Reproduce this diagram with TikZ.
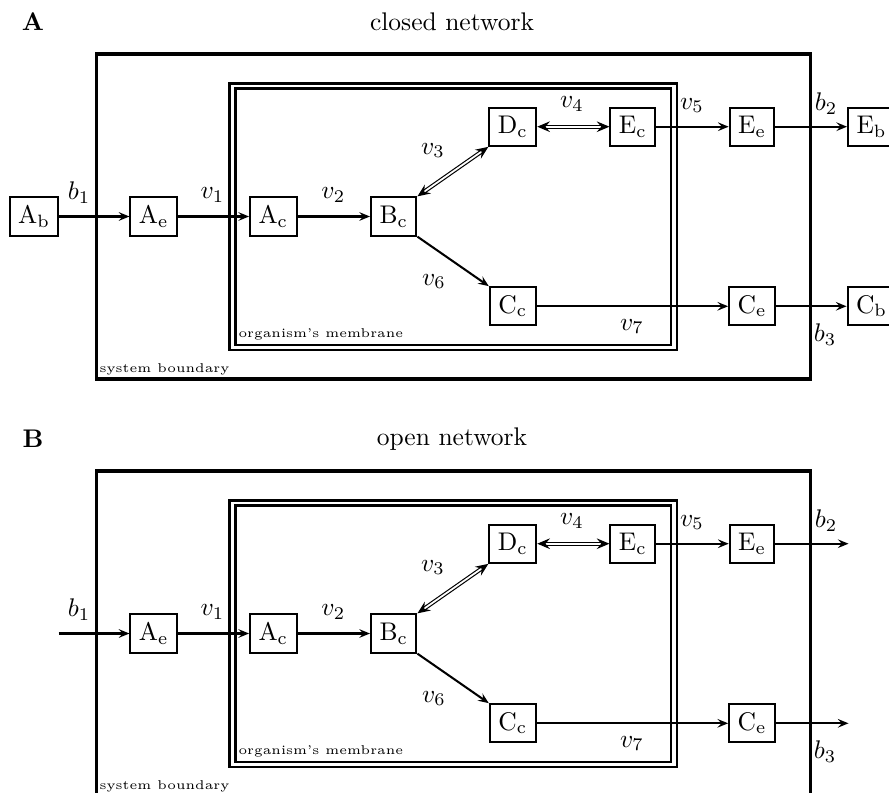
\documentclass[tikz,border=0pt]{standalone}
\usetikzlibrary{arrows.meta}
\tikzset{
  box/.style={draw,thick,inner sep=3.33pt},
  flow/.style={thick,-{Stealth[length=4.2pt,width=3.4pt,inset=1.6pt]}},
  rev/.style={double,double distance=0.7pt,line width=0.45pt,{Stealth[length=5pt,width=4.2pt,inset=1.8pt]}-{Stealth[length=5pt,width=4.2pt,inset=1.8pt]}},
  lab/.style={inner sep=0pt},
  small/.style={inner sep=0pt,font=\tiny,anchor=base west},
  sysb/.style={line width=1.3pt},
  memb/.style={line width=0.85pt},
}
\newcommand\drawpanelcore[2]{%
  \node[lab] (#1title) at (452,22) {#2};
  \draw[sysb] (96.5,54) rectangle (810.5,379);
  \draw[memb] (229.5,83.5) rectangle (677,350);
  \draw[memb] (235.5,88.5) rectangle (671,345);
  \node[small] (#1sys) at (99,372) {system boundary};
  \node[small] (#1mem) at (238,337.5) {organism's membrane};
  \node[box] (#1Ae) at (153.7,216.5) {$\mathrm{A_e}$};
  \node[box] (#1Ac) at (273.3,216.5) {$\mathrm{A_c}$};
  \node[box] (#1Bc) at (393.7,216.5) {$\mathrm{B_c}$};
  \node[box] (#1Dc) at (512.8,126.7) {$\mathrm{D_c}$};
  \node[box] (#1Ec) at (632.8,126.7) {$\mathrm{E_c}$};
  \node[box] (#1Ee) at (752,126.7) {$\mathrm{E_e}$};
  \node[box] (#1Cc) at (512.7,306.3) {$\mathrm{C_c}$};
  \node[box] (#1Ce) at (752,306.3) {$\mathrm{C_e}$};
  \draw[flow] (#1Ae) -- (#1Ac);
  \draw[flow] (#1Ac) -- (#1Bc);
  \draw[rev] (#1Bc.north east) -- (#1Dc.south west);
  \draw[rev] (#1Dc) -- (#1Ec);
  \draw[flow] (#1Bc.south east) -- (#1Cc.north west);
  \draw[flow] (#1Ec) -- (#1Ee);
  \draw[flow] (#1Cc) -- (#1Ce);
  \node[lab] (#1b1) at (79,192.5) {$b_1$};
  \node[lab] (#1v1) at (212.5,195) {$v_1$};
  \node[lab] (#1v2) at (333.3,195) {$v_2$};
  \node[lab] (#1v3) at (433,150.5) {$v_3$};
  \node[lab] (#1v4) at (572,104) {$v_4$};
  \node[lab] (#1v5) at (692,105.5) {$v_5$};
  \node[lab] (#1b2) at (826,104) {$b_2$};
  \node[lab] (#1v6) at (434,281.5) {$v_6$};
  \node[lab] (#1v7) at (632,326.5) {$v_7$};
  \node[lab] (#1b3) at (825,335) {$b_3$};
}
\begin{document}
\begin{tikzpicture}[x=0.392pt,y=-0.392pt]
\clip (0,0) rectangle (889,792);
% Panel A
\node[lab] (labA) at (33,22) {\textbf{A}};
\drawpanelcore{a}{closed network}
\node[box] (aAb) at (34,216.5) {$\mathrm{A_b}$};
\node[box] (aEb) at (871.5,126.7) {$\mathrm{E_b}$};
\node[box] (aCb) at (871.5,306.3) {$\mathrm{C_b}$};
\draw[flow] (aAb) -- (aAe);
\draw[flow] (aEe) -- (aEb);
\draw[flow] (aCe) -- (aCb);
% Panel B
\node[lab] (labB) at (33,439) {\textbf{B}};
\begin{scope}[shift={(0,417)}]
\drawpanelcore{b}{open network}
\coordinate (bin) at (58.5,216.5);
\coordinate (bEout) at (848.5,126.7);
\coordinate (bCout) at (848.5,306.3);
\draw[flow] (bin) -- (bAe);
\draw[flow] (bEe) -- (bEout);
\draw[flow] (bCe) -- (bCout);
\end{scope}
\end{tikzpicture}
\end{document}
